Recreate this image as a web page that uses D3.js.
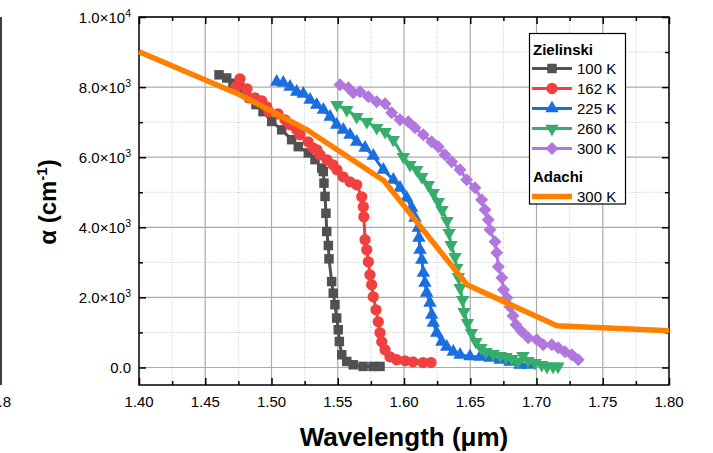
<!DOCTYPE html>
<html><head><meta charset="utf-8">
<script src="https://cdn.jsdelivr.net/npm/d3@7"></script>
<style>
body{margin:0;background:#fff}
svg{display:block;font-family:"Liberation Sans",Arial,Helvetica,sans-serif}
</style>
</head><body>
<svg id="chart" width="713" height="453"></svg>
<script>
// ---------- data ----------
const xTickValues = [1.40, 1.45, 1.50, 1.55, 1.60, 1.65, 1.70, 1.75, 1.80];
const xTickLabels = ["1.40", "1.45", "1.50", "1.55", "1.60", "1.65", "1.70", "1.75", "1.80"];
const yTickValues = [0, 2000, 4000, 6000, 8000, 10000];
const yTickMantissa = ["0.0", "2.0", "4.0", "6.0", "8.0", "1.0"];
const yTickExponent = ["", "3", "3", "3", "3", "4"];

const wl100 = [1.4604,1.4662,1.4709,1.4750,1.4790,1.4838,1.4883,1.4936,1.5002,1.5077,1.5152,1.5202,1.5278,1.5328,1.5379,1.5391,1.5396,1.5404,1.5411,1.5417,1.5429,1.5434,1.5454,1.5466,1.5479,1.5492,1.5504,1.5512,1.5530,1.5568,1.5617,1.5691,1.5766,1.5819];
const a100  = [8350,8260,8110,7990,7850,7690,7500,7300,7020,6780,6500,6300,6120,5930,5690,5590,5260,4880,4400,3880,3480,3100,2450,2120,1790,1410,1076,742,362,171,77,30,30,30];

const wl162 = [1.4732,1.4762,1.4815,1.4830,1.4875,1.4926,1.4964,1.4981,1.5049,1.5102,1.5140,1.5190,1.5215,1.5276,1.5313,1.5343,1.5366,1.5419,1.5464,1.5494,1.5540,1.5592,1.5643,1.5681,1.5693,1.5697,1.5706,1.5719,1.5731,1.5743,1.5756,1.5768,1.5789,1.5806,1.5819,1.5832,1.5857,1.5894,1.5945,1.6008,1.6068,1.6143,1.6204];
const a162  = [8008,8237,7952,7695,7695,7609,7438,7295,7238,7067,6925,6782,6639,6439,6268,6211,6068,5926,5783,5640,5441,5298,5212,4870,4585,4300,3644,3358,3016,2645,2360,2017,1646,1304,990,733,505,305,220,190,160,140,140];

const wl225 = [1.5039,1.5089,1.5140,1.5190,1.5240,1.5291,1.5341,1.5391,1.5442,1.5492,1.5542,1.5592,1.5643,1.5706,1.5768,1.5844,1.5919,1.5970,1.6020,1.6058,1.6083,1.6108,1.6113,1.6121,1.6134,1.6146,1.6158,1.6171,1.6196,1.6209,1.6221,1.6247,1.6285,1.6322,1.6372,1.6423,1.6498,1.6574,1.6649,1.6725,1.6800,1.6875,1.6936];
const a225  = [8151,8123,8009,7866,7809,7638,7495,7352,7152,6925,6782,6639,6439,6268,6040,5640,5355,5127,4842,4557,4271,3986,3700,3358,3073,2702,2417,2131,1846,1504,1275,990,733,590,448,362,314,305,277,220,163,77,77];

const wl260 = [1.5494,1.5568,1.5643,1.5719,1.5794,1.5857,1.5919,1.5995,1.6045,1.6096,1.6134,1.6183,1.6221,1.6259,1.6287,1.6325,1.6340,1.6355,1.6385,1.6398,1.6410,1.6423,1.6442,1.6453,1.6479,1.6509,1.6543,1.6581,1.6619,1.6672,1.6725,1.6770,1.6815,1.6860,1.6898,1.6936,1.6989,1.7039,1.7079,1.7125,1.7162];
const a260  = [7495,7352,7152,7010,6839,6725,6496,6012,5783,5640,5441,5213,4984,4727,4499,4185,3843,3501,3158,2844,2588,2274,1932,1590,1275,990,733,562,448,391,334,305,248,163,334,191,134,77,29,29,29];

const wl300 = [1.5517,1.5580,1.5617,1.5668,1.5731,1.5794,1.5857,1.5907,1.5970,1.6032,1.6083,1.6146,1.6209,1.6259,1.6309,1.6360,1.6423,1.6473,1.6536,1.6586,1.6611,1.6636,1.6649,1.6687,1.6700,1.6712,1.6738,1.6751,1.6777,1.6800,1.6823,1.6845,1.6888,1.6938,1.7002,1.7051,1.7115,1.7164,1.7215,1.7266,1.7315];
const a300  = [8065,7980,7837,7866,7723,7581,7524,7267,7067,7010,6839,6639,6439,6296,6068,5868,5640,5355,5127,4785,4499,4214,3929,3586,3272,2873,2559,2217,1989,1732,1475,1218,1027,847,790,647,647,562,448,362,220];

const wlAdachi = [1.40, 1.4762, 1.5268, 1.5849, 1.6475, 1.7155, 1.80];
const aAdachi  = [9007, 7781, 6782, 5327, 2359, 1190, 1047];

const seriesNames = ["100 K", "162 K", "225 K", "260 K", "300 K"];
const seriesColors = ["#515151", "#F14040", "#1A6FDF", "#37AD6B", "#B177DE"];
const adachiName = "300 K";
const adachiColor = "#FF8000";

// ---------- layout ----------
const svg = d3.select("#chart");
const L = 139, R = 669, T = 17, B = 385;
const x = d3.scaleLinear().domain([1.40, 1.80]).range([L, R]);
const y = d3.scaleLinear().domain([-500, 10000]).range([B, T]);

// remnant of neighbouring panel on the left
svg.append("line").attr("x1", 1).attr("x2", 1).attr("y1", T).attr("y2", B)
  .attr("stroke", "#000").attr("stroke-width", 1.5);
svg.append("text").attr("x", 11).attr("y", 407).attr("text-anchor", "end")
  .attr("font-size", 15).text("1.8");

// grid
const xMinor = d3.range(1.425, 1.80, 0.05);
const yMinor = d3.range(1000, 10000, 2000);
const grid = svg.append("g");
grid.selectAll(".xmin").data(xMinor).join("line")
  .attr("x1", d => x(d)).attr("x2", d => x(d)).attr("y1", T).attr("y2", B)
  .attr("stroke", "#c8c8c8").attr("stroke-dasharray", "1,1.5");
grid.selectAll(".ymin").data(yMinor).join("line")
  .attr("x1", L).attr("x2", R).attr("y1", d => y(d)).attr("y2", d => y(d))
  .attr("stroke", "#c8c8c8").attr("stroke-dasharray", "1,1.5");
grid.selectAll(".xmaj").data(xTickValues.slice(1, -1)).join("line")
  .attr("x1", d => x(d)).attr("x2", d => x(d)).attr("y1", T).attr("y2", B)
  .attr("stroke", "#ababab").attr("stroke-width", 1.2);
grid.selectAll(".ymaj").data(yTickValues).join("line")
  .attr("x1", L).attr("x2", R).attr("y1", d => y(d)).attr("y2", d => y(d))
  .attr("stroke", "#ababab").attr("stroke-width", 1.2);

// axes (ticks inward)
function styleAxis(g) {
  g.select(".domain").remove();
  g.selectAll("line").attr("stroke", "#000").attr("stroke-width", 1.5);
  g.selectAll("text").remove();
}
const allX = xTickValues, allY = yTickValues;
svg.append("g").attr("transform", `translate(0,${B})`)
  .call(d3.axisBottom(x).tickValues(allX).tickSize(-7)).call(styleAxis);
svg.append("g").attr("transform", `translate(0,${B})`)
  .call(d3.axisBottom(x).tickValues(xMinor).tickSize(-4)).call(styleAxis);
svg.append("g").attr("transform", `translate(0,${T})`)
  .call(d3.axisTop(x).tickValues(allX).tickSize(-7)).call(styleAxis);
svg.append("g").attr("transform", `translate(0,${T})`)
  .call(d3.axisTop(x).tickValues(xMinor).tickSize(-4)).call(styleAxis);
svg.append("g").attr("transform", `translate(${L},0)`)
  .call(d3.axisLeft(y).tickValues(allY).tickSize(-7)).call(styleAxis);
svg.append("g").attr("transform", `translate(${L},0)`)
  .call(d3.axisLeft(y).tickValues(yMinor).tickSize(-4)).call(styleAxis);
svg.append("g").attr("transform", `translate(${R},0)`)
  .call(d3.axisRight(y).tickValues(allY).tickSize(-7)).call(styleAxis);
svg.append("g").attr("transform", `translate(${R},0)`)
  .call(d3.axisRight(y).tickValues(yMinor).tickSize(-4)).call(styleAxis);

// tick labels
svg.append("g").selectAll("text").data(xTickValues).join("text")
  .attr("x", d => x(d)).attr("y", 407).attr("text-anchor", "middle")
  .attr("font-size", 15).text((d, i) => xTickLabels[i]);

const yl = svg.append("g").selectAll("text").data(yTickValues).join("text")
  .attr("x", 131).attr("y", d => y(d) + 5.5).attr("text-anchor", "end")
  .attr("font-size", 15);
yl.each(function(d, i) {
  const t = d3.select(this);
  if (yTickExponent[i] === "") { t.text(yTickMantissa[i]); return; }
  t.append("tspan").text(yTickMantissa[i] + "×10");
  t.append("tspan").attr("font-size", 10.5).attr("dy", -6).text(yTickExponent[i]);
});

// axis titles
svg.append("text").attr("x", 404).attr("y", 446).attr("text-anchor", "middle")
  .attr("font-size", 26).attr("font-weight", "bold").text("Wavelength (μm)");
const yt = svg.append("text").attr("transform", "translate(56,202) rotate(-90)")
  .attr("text-anchor", "middle").attr("font-size", 24).attr("font-weight", "bold");
yt.append("tspan").text("α (cm");
yt.append("tspan").attr("font-size", 15).attr("dy", -9).text("-1");
yt.append("tspan").attr("dy", 9).text(")");

// frame
svg.append("rect").attr("x", L).attr("y", T).attr("width", R - L).attr("height", B - T)
  .attr("fill", "none").attr("stroke", "#000").attr("stroke-width", 1.5);

// series
const symSquare = d3.symbol().type(d3.symbolSquare).size(90)();
const symCircle = d3.symbol().type(d3.symbolCircle).size(100)();
const symTri = d3.symbol().type(d3.symbolTriangle).size(78)();
const symDiamond = d3.symbol().type(d3.symbolSquare).size(84)();
const markers = [
  {path: symSquare, rot: 0},
  {path: symCircle, rot: 0},
  {path: symTri, rot: 0},
  {path: symTri, rot: 180},
  {path: symDiamond, rot: 45}
];
const seriesWl = [wl100, wl162, wl225, wl260, wl300];
const seriesA = [a100, a162, a225, a260, a300];
const line = d3.line().x(d => x(d[0])).y(d => y(d[1]));
const plot = svg.append("g");
seriesWl.forEach((wl, k) => {
  const pts = wl.map((w, i) => [w, seriesA[k][i]]);
  const g = plot.append("g");
  g.append("path").datum(pts).attr("d", line).attr("fill", "none")
    .attr("stroke", seriesColors[k]).attr("stroke-width", 3);
  g.selectAll("path.m").data(pts).join("path").attr("class", "m")
    .attr("d", markers[k].path).attr("fill", seriesColors[k])
    .attr("transform", d => `translate(${x(d[0])},${y(d[1])}) rotate(${markers[k].rot})`);
});
plot.append("path").datum(wlAdachi.map((w, i) => [w, aAdachi[i]])).attr("d", line)
  .attr("fill", "none").attr("stroke", adachiColor).attr("stroke-width", 5.5)
  .attr("stroke-linejoin", "miter");

// legend
const lg = svg.append("g");
lg.append("rect").attr("x", 529.5).attr("y", 33.5).attr("width", 96).attr("height", 170.5)
  .attr("fill", "#fff").attr("stroke", "#000").attr("stroke-width", 1.2);
lg.append("text").attr("x", 533).attr("y", 55).attr("font-size", 15).attr("font-weight", "bold").text("Zielinski");
seriesNames.forEach((n, k) => {
  const cy = 68.5 + k * 20;
  lg.append("line").attr("x1", 532).attr("x2", 572).attr("y1", cy).attr("y2", cy)
    .attr("stroke", seriesColors[k]).attr("stroke-width", 3);
  lg.append("path").attr("d", markers[k].path).attr("fill", seriesColors[k])
    .attr("transform", `translate(552,${cy}) rotate(${markers[k].rot})`);
  lg.append("text").attr("x", 577).attr("y", cy + 5.5).attr("font-size", 15).text(n);
});
lg.append("text").attr("x", 533).attr("y", 182).attr("font-size", 15).attr("font-weight", "bold").text("Adachi");
lg.append("line").attr("x1", 532).attr("x2", 572).attr("y1", 196.5).attr("y2", 196.5)
  .attr("stroke", adachiColor).attr("stroke-width", 5.5);
lg.append("text").attr("x", 577).attr("y", 202).attr("font-size", 15).text(adachiName);
</script>
</body></html>
